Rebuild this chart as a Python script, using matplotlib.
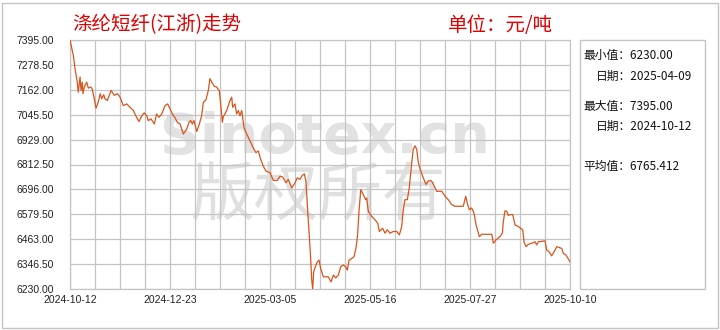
import numpy as np
import matplotlib
matplotlib.use('Agg')
import matplotlib.pyplot as plt

# Tage seit 2024-10-12 und Preis (元/吨)
days = [0.0, 2.4, 3.6, 5.3, 6.0, 7.3, 8.0, 8.9, 9.4, 10.4, 12.1, 13.3, 15.2, 16.2, 17.6,
        18.9, 20.5, 22.0, 23.0, 24.5, 25.4, 27.1, 29.8, 32.2, 34.6, 36.3, 38.7, 41.2,
        43.6, 46.0, 47.7, 50.1, 52.1, 53.9, 55.7, 56.8, 58.8, 61.2, 62.9, 64.6, 66.6,
        69.0, 70.9, 72.6, 75.0, 76.2, 77.9, 79.9, 82.3, 84.7, 86.4, 87.6, 88.8, 90.0,
        92.0, 93.9, 95.6, 96.8, 98.7, 100.4, 101.6, 102.9, 104.8, 106.5, 108.4, 109.4,
        110.6, 111.3, 112.5, 114.2, 115.7, 117.4, 118.1, 119.8, 121.0, 122.2, 123.4,
        124.7, 126.3, 128.3, 130.7, 133.1, 135.0, 136.7, 138.4, 140.3, 142.3, 145.2,
        147.6, 150.5, 152.5, 154.4, 156.8, 158.5, 161.0, 163.4, 165.0, 167.0, 168.2,
        170.1, 171.3, 172.6, 173.7, 174.7, 175.5, 176.2, 176.9, 178.1, 179.5, 180.8,
        182.0, 183.9, 187.5, 189.5, 191.2, 192.9, 194.8, 196.5, 198.4, 200.2, 201.3,
        202.6, 204.5, 206.2, 207.6, 208.8, 209.8, 211.1, 212.9, 214.7, 215.4, 216.6,
        219.0, 221.4, 223.4, 224.6, 227.0, 228.7, 230.4, 232.3, 234.7, 237.2, 239.1,
        240.8, 242.0, 243.2, 244.9, 246.3, 248.1, 249.2, 250.5, 251.7, 252.9, 254.6,
        256.5, 258.5, 260.1, 261.9, 263.3, 265.0, 266.2, 269.9, 272.3, 274.6, 277.1,
        279.5, 285.5, 287.3, 288.4, 289.9, 291.6, 293.3, 294.8, 297.2, 298.9, 306.2,
        307.4, 309.3, 312.2, 313.9, 314.6, 315.8, 317.1, 318.2, 319.4, 321.4, 323.1,
        325.5, 327.2, 328.7, 329.6, 331.1, 332.7, 335.2, 337.6, 338.8, 340.0, 344.9,
        346.1, 347.8, 349.7, 351.4, 353.4, 357.0, 358.2, 360.1, 361.8, 363.0]
prices = [7395, 7324, 7262, 7198, 7151, 7222, 7159, 7198, 7144, 7175, 7198, 7170, 7175, 7164, 7120,
          7076, 7104, 7144, 7120, 7139, 7120, 7112, 7159, 7136, 7144, 7128, 7088, 7096,
          7080, 7065, 7041, 7013, 7041, 7054, 7041, 7018, 7026, 7002, 7049, 7033, 7049,
          7088, 7096, 7073, 7041, 7032, 7010, 7002, 6955, 6978, 7010, 7018, 7002, 7018,
          6967, 7002, 7041, 7104, 7115, 7159, 7214, 7198, 7178, 7175, 7156, 7096,
          7010, 7037, 7049, 7073, 7104, 7128, 7080, 7096, 7049, 7065, 7041,
          7065, 6986, 6955, 6923, 6889, 6868, 6876, 6837, 6805, 6782, 6774,
          6738, 6738, 6758, 6754, 6727, 6743, 6703, 6727, 6750, 6743, 6758,
          6769, 6735, 6593, 6483, 6373, 6271, 6230, 6310, 6334, 6357, 6365,
          6326, 6287, 6287, 6263, 6295, 6282, 6295, 6334, 6342, 6334, 6318,
          6365, 6373, 6381, 6420, 6483, 6593, 6695, 6672, 6648, 6656, 6593,
          6570, 6554, 6538, 6499, 6514, 6491, 6507, 6491, 6499, 6499, 6483,
          6522, 6601, 6648, 6648, 6703, 6821, 6884, 6900, 6884, 6821, 6782,
          6750, 6719, 6735, 6738, 6727, 6703, 6687, 6687, 6664, 6648, 6625,
          6617, 6617, 6664, 6632, 6601, 6609, 6585, 6530, 6475, 6486, 6486,
          6444, 6460, 6475, 6491, 6546, 6596, 6593, 6574, 6578, 6578, 6530,
          6522, 6514, 6507, 6451, 6428, 6439, 6444, 6451, 6436, 6451, 6455,
          6412, 6404, 6385, 6404, 6428, 6420, 6396, 6389, 6370, 6357]

x_labels = ['2024-10-12', '2024-12-23', '2025-03-05', '2025-05-16', '2025-07-27', '2025-10-10']
y_min, y_max = 6230.00, 7395.00
info_lines = ['最小值：6230.00', '日期：2025-04-09', '最大值：7395.00', '日期：2024-10-12', '平均值：6765.412']

W, H = 720, 330
def fx(px):
    return px / W
def fy(py):
    return 1 - py / H

cjk = ['Noto Sans CJK SC', 'DejaVu Sans']
grid_col = '#c4c4c4'

fig = plt.figure(figsize=(7.2, 3.3), dpi=100)
fig.patch.set_facecolor('white')

# Rahmen um das ganze Bild
fig.patches.append(plt.Rectangle((fx(1.5), fy(328)), fx(716.5), 327 / H - 1.5 / H,
                                 transform=fig.transFigure, fill=False,
                                 edgecolor=grid_col, linewidth=1))

ax = fig.add_axes([fx(70), fy(289), fx(500), 249 / H])
ax.plot(days, prices, color='#d9541c', linewidth=0.9, zorder=3)

ax.set_xlim(0, 363)
ax.set_ylim(y_min, y_max)
ax.set_xticks(np.linspace(0, 363, len(x_labels)))
ax.set_xticklabels(x_labels)
ax.set_xticks(np.linspace(0, 363, 21), minor=True)
ax.set_yticks(np.linspace(y_min, y_max, 11))
ax.set_yticklabels(['%.2f' % v for v in np.linspace(y_min, y_max, 11)])
ax.tick_params(which='both', length=0, labelsize=7.5, colors='#222222', pad=4)
ax.tick_params(axis='y', pad=11.5)
for lab in ax.get_xticklabels() + ax.get_yticklabels():
    lab.set_family('Liberation Sans')
ax.grid(True, which='both', color=grid_col, linewidth=0.9)
for s in ax.spines.values():
    s.set_color(grid_col)
    s.set_linewidth(0.9)
ax.set_axisbelow(True)

# Wasserzeichen
ax.text(fx(325), fy(153), 'Sinotex.cn', transform=fig.transFigure, ha='center',
        va='baseline', fontsize=40, fontweight='bold', family='DejaVu Sans',
        color='#e2e2e2', zorder=0.5)
ax.text(fx(318), fy(197), '版权所有', transform=fig.transFigure, ha='center',
        va='center', fontsize=46, family=cjk, color='#e0e0e0', zorder=0.5)

# Titel
fig.text(fx(72), fy(25), '涤纶短纤(江浙)走势', color='#e00000', fontsize=14,
         family=cjk, va='center', ha='left')
fig.text(fx(448), fy(25), '单位：元/吨', color='#e00000', fontsize=14,
         family=cjk, va='center', ha='left')

# Infokasten rechts
fig.patches.append(plt.Rectangle((fx(580), fy(289)), fx(125), 249 / H,
                                 transform=fig.transFigure, fill=False,
                                 edgecolor=grid_col, linewidth=1))
info_pos = [(583, 55), (596, 76), (583, 106), (596, 126), (583, 166)]
for txt, (px, py) in zip(info_lines, info_pos):
    fig.text(fx(px), fy(py), txt, fontsize=8.5, family=cjk, color='#111111',
             va='center', ha='left')

fig.savefig('out.png', dpi=100, facecolor='white')
